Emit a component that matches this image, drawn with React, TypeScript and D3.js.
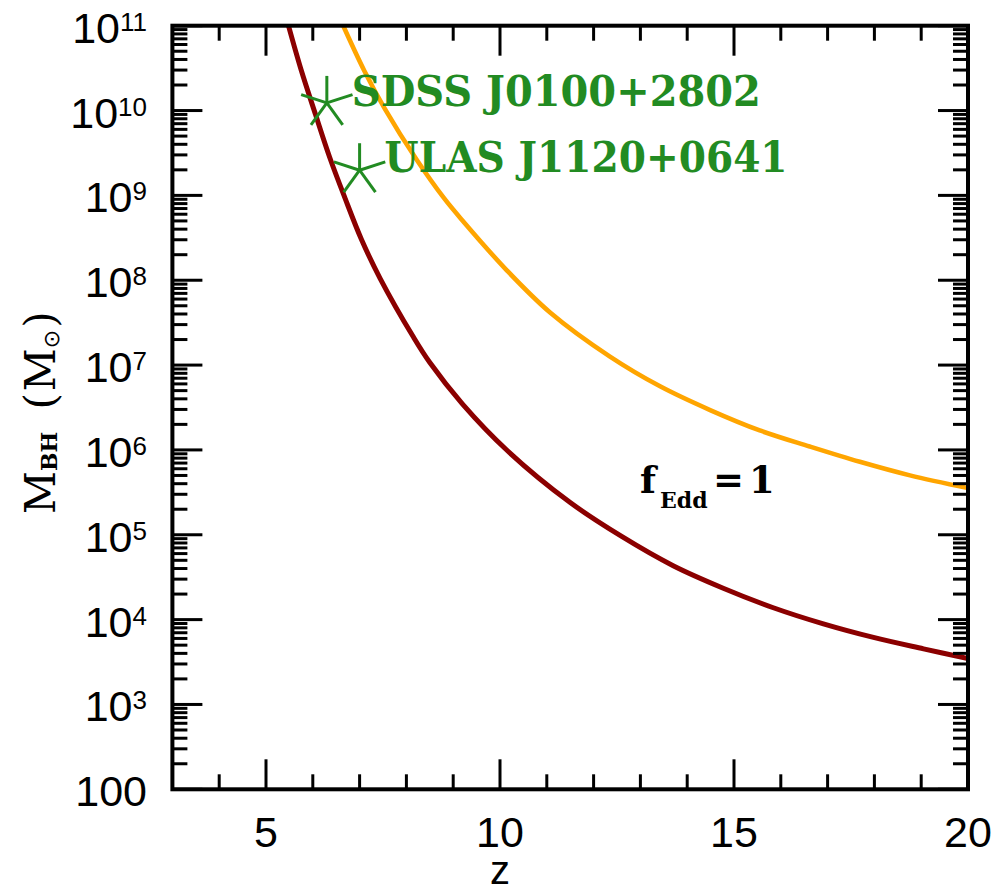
import React from "react";
import * as d3 from "d3";

// ---- data ----
const redZ = [5.48, 5.75, 6.06, 6.36, 6.68, 7.04, 7.44, 8.15, 8.5, 9.2, 10.16, 11.5, 12.6, 13.7, 14.77, 15.84, 16.91, 17.98, 19.05, 20.0];
const redLogM = [11.0, 10.48, 9.95, 9.45, 8.98, 8.48, 8.02, 7.33, 7.03, 6.54, 5.99, 5.38, 4.98, 4.635, 4.37, 4.14, 3.95, 3.79, 3.655, 3.54];

const orangeZ = [6.65, 7.1, 7.54, 8.22, 8.8, 9.22, 10.14, 11.07, 12.35, 13.42, 14.49, 15.55, 16.62, 17.69, 18.76, 20.0];
const orangeLogM = [11.0, 10.47, 10.02, 9.42, 8.97, 8.69, 8.12, 7.62, 7.1, 6.75, 6.47, 6.23, 6.04, 5.86, 5.7, 5.55];

const quasarNames = ["SDSS J0100+2802", "ULAS J1120+0641"];
const quasarZ = [6.3, 7.0];
const quasarM = [1.23e10, 1.98e9];

const xMajorTicks = [5, 10, 15, 20];
const xMinorTicks = [4, 6, 7, 8, 9, 11, 12, 13, 14, 16, 17, 18, 19];
const yMajorExps = [2, 3, 4, 5, 6, 7, 8, 9, 10, 11];

const W = 1005;
const H = 894;
const L = 172.4, R = 968, T = 25.7, B = 789.3;

const x = d3.scaleLinear().domain([3, 20]).range([L, R]);
const y = d3.scaleLog().domain([100, 1e11]).range([B, T]);

const line = d3
  .line<[number, number]>()
  .x((d) => x(d[0]))
  .y((d) => y(Math.pow(10, d[1])))
  .curve(d3.curveCatmullRom.alpha(0.5));

const redPts: [number, number][] = redZ.map((z, i) => [z, redLogM[i]]);
const orangePts: [number, number][] = orangeZ.map((z, i) => [z, orangeLogM[i]]);

const yMinor: number[] = [];
for (let e = 2; e <= 10; e++) for (let k = 2; k <= 9; k++) yMinor.push(k * Math.pow(10, e));

const GREEN = "#228B22";
const tickFont = "'Liberation Sans', Arial, sans-serif";
const serif = "'DejaVu Serif', serif";

function Star({ cx, cy }: { cx: number; cy: number }) {
  const r = 27;
  const angles = [90, 162, 234, 306, 18];
  return (
    <g stroke={GREEN} strokeWidth={3}>
      {angles.map((a) => (
        <line
          key={a}
          x1={cx}
          y1={cy}
          x2={cx + r * Math.cos((a * Math.PI) / 180)}
          y2={cy - r * Math.sin((a * Math.PI) / 180)}
        />
      ))}
    </g>
  );
}

export default function App() {
  return (
    <svg width={W} height={H} style={{ display: "block", position: "absolute", left: 0, top: 0 }}>
      <rect width={W} height={H} fill="white" />
      <defs>
        <clipPath id="plotclip">
          <rect x={L} y={T} width={R - L} height={B - T} />
        </clipPath>
      </defs>

      {/* curves */}
      <g clipPath="url(#plotclip)" fill="none">
        <path d={line(orangePts) || ""} stroke="#FFA500" strokeWidth={4.6} />
        <path d={line(redPts) || ""} stroke="#8B0000" strokeWidth={5} />
      </g>

      {/* ticks */}
      <g stroke="black" strokeWidth={3}>
        {xMajorTicks.map((t) => (
          <g key={"xM" + t}>
            <line x1={x(t)} x2={x(t)} y1={B} y2={B - 30} />
            <line x1={x(t)} x2={x(t)} y1={T} y2={T + 30} />
          </g>
        ))}
        {xMinorTicks.map((t) => (
          <g key={"xm" + t}>
            <line x1={x(t)} x2={x(t)} y1={B} y2={B - 15} />
            <line x1={x(t)} x2={x(t)} y1={T} y2={T + 15} />
          </g>
        ))}
        {yMajorExps.map((e) => (
          <g key={"yM" + e}>
            <line x1={L} x2={L + 30} y1={y(Math.pow(10, e))} y2={y(Math.pow(10, e))} />
            <line x1={R} x2={R - 30} y1={y(Math.pow(10, e))} y2={y(Math.pow(10, e))} />
          </g>
        ))}
        {yMinor.map((v) => (
          <g key={"ym" + v}>
            <line x1={L} x2={L + 15} y1={y(v)} y2={y(v)} />
            <line x1={R} x2={R - 15} y1={y(v)} y2={y(v)} />
          </g>
        ))}
      </g>

      {/* frame */}
      <rect x={L} y={T} width={R - L} height={B - T} fill="none" stroke="black" strokeWidth={4} />

      {/* x tick labels */}
      <g fontFamily={tickFont} fontSize={43} fill="black" textAnchor="middle">
        {xMajorTicks.map((t) => (
          <text key={"xl" + t} x={x(t)} y={847}>
            {t}
          </text>
        ))}
      </g>

      {/* y tick labels */}
      <g fontFamily={tickFont} fill="black" textAnchor="end">
        {yMajorExps.map((e) => (
          <text key={"yl" + e} x={147} y={y(Math.pow(10, e)) + 17} fontSize={43}>
            {e === 2 ? (
              "100"
            ) : (
              <>
                <tspan>10</tspan>
                <tspan fontSize={26} dy={-12}>
                  {e}
                </tspan>
              </>
            )}
          </text>
        ))}
      </g>

      {/* axis titles */}
      <text x={500} y={884} fontFamily={tickFont} fontSize={40} textAnchor="middle">
        z
      </text>
      <text transform="translate(55,514) rotate(-90)" fontFamily={serif} fontSize={42} fill="black">
        <tspan>M</tspan>
        <tspan fontSize={22} dy={2} fontWeight="bold">BH</tspan>
        <tspan dy={-2} dx={22}>(</tspan>
        <tspan dx={2}>M</tspan>
        <tspan fontSize={22} dy={4} fontFamily="'DejaVu Sans', sans-serif">⊙</tspan>
        <tspan dy={-4} dx={2}>)</tspan>
      </text>

      {/* f_Edd = 1 */}
      <g fontFamily={serif} fontWeight="bold" fill="black">
        <text x={640} y={493} fontSize={37}>f</text>
        <text x={660} y={508} fontSize={22}>Edd</text>
        <text x={713} y={493} fontSize={37}>=</text>
        <text x={749} y={493} fontSize={37}>1</text>
      </g>

      {/* quasars */}
      {quasarNames.map((name, i) => {
        const cx = x(quasarZ[i]);
        const cy = y(quasarM[i]);
        return (
          <g key={name}>
            <Star cx={cx} cy={cy} />
            <text
              x={cx + 25}
              y={cy + (i === 0 ? 3.5 : 1.5)}
              fontFamily={serif}
              fontWeight="bold"
              fontSize={42}
              fill={GREEN}
              textLength={i === 0 ? 409 : 403}
              lengthAdjust="spacingAndGlyphs"
            >
              {name}
            </text>
          </g>
        );
      })}
    </svg>
  );
}
